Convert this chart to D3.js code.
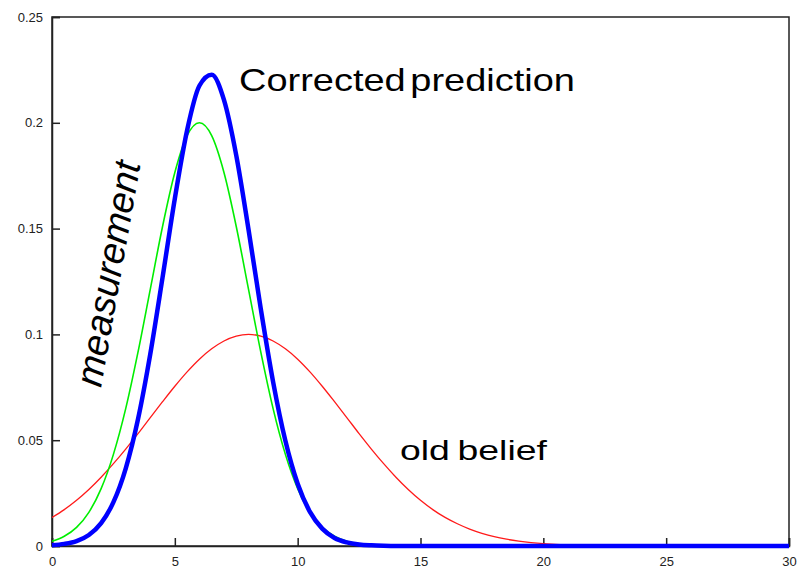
<!DOCTYPE html>
<html>
<head>
<meta charset="utf-8">
<script src="https://cdn.jsdelivr.net/npm/d3@7/dist/d3.min.js"></script>
<style>
  html, body { margin: 0; padding: 0; background: #fff; }
  svg { display: block; }
</style>
</head>
<body>
<svg id="chart" width="798" height="570"></svg>
<script>
// ---- data ----
const xs = [0,0.5,1,1.5,2,2.5,3,3.5,4,4.5,5,5.5,6,6.5,7,7.5,8,8.5,9,9.5,10,10.5,11,11.5,12,12.5,13,13.5,14,14.5,15,15.5,16,16.5,17,17.5,18,18.5,19,19.5,20,20.5,21,21.5,22,22.5,23,23.5,24,24.5,25,25.5,26,26.5,27,27.5,28,28.5,29,29.5,30];

const oldBelief = [0.0135,0.0172,0.0216,0.0267,0.0325,0.0389,0.0458,0.0531,0.0607,0.0682,0.0755,0.0823,0.0883,0.0932,0.0969,0.0992,0.1000,0.0992,0.0969,0.0932,0.0883,0.0823,0.0755,0.0682,0.0607,0.0531,0.0458,0.0389,0.0325,0.0267,0.0216,0.0172,0.0135,0.0105,0.0080,0.0060,0.0044,0.0032,0.0023,0.0016,0.0011,0.0008,0.0005,0.0003,0.0002,0.0001,0.0001,0,0,0,0,0,0,0,0,0,0,0,0,0,0];

const measurement = [0.0022,0.0046,0.0088,0.0159,0.0271,0.0433,0.0649,0.0916,0.1213,0.1510,0.1765,0.1939,0.2000,0.1939,0.1765,0.1510,0.1213,0.0916,0.0649,0.0433,0.0271,0.0159,0.0088,0.0046,0.0022,0.0010,0.0004,0.0002,0.0001,0,0,0,0,0,0,0,0,0,0,0,0,0,0,0,0,0,0,0,0,0,0,0,0,0,0,0,0,0,0,0,0];

const corrected = [0.0004,0.0010,0.0023,0.0052,0.0108,0.0207,0.0366,0.0599,0.0907,0.1269,0.1642,0.1965,0.2175,0.2227,0.2108,0.1846,0.1495,0.1120,0.0776,0.0497,0.0294,0.0161,0.0082,0.0038,0.0017,0.0007,0.0003,0.0001,0,0,0,0,0,0,0,0,0,0,0,0,0,0,0,0,0,0,0,0,0,0,0,0,0,0,0,0,0,0,0,0,0];

const xTicks = [0,5,10,15,20,25,30];
const xTickLabels = ["0","5","10","15","20","25","30"];
const yTicks = [0,0.05,0.1,0.15,0.2,0.25];
const yTickLabels = ["0","0.05","0.1","0.15","0.2","0.25"];

const labelCorrected = "Corrected prediction";
const labelOld = "old belief";
const labelMeas = "measurement";

// ---- layout ----
const svg = d3.select("#chart");
const L = 52, R = 789, T = 17, B = 546;
const x = d3.scaleLinear().domain([0,30]).range([L,R]);
const y = d3.scaleLinear().domain([0,0.25]).range([B,T]);
const font = "Arial, 'Liberation Sans', sans-serif";

// box
svg.append("rect")
  .attr("x", L).attr("y", T).attr("width", R-L).attr("height", B-T)
  .attr("fill", "none").attr("stroke", "#222").attr("stroke-width", 1.5);

// axes
const xAxis = d3.axisBottom(x).tickValues(xTicks)
  .tickFormat((d,i) => xTickLabels[i]).tickSize(-8).tickPadding(11);
const yAxis = d3.axisLeft(y).tickValues(yTicks)
  .tickFormat((d,i) => yTickLabels[i]).tickSize(-8).tickPadding(9);

const gx = svg.append("g").attr("transform", `translate(0,${B})`).call(xAxis);
const gy = svg.append("g").attr("transform", `translate(${L},0)`).call(yAxis);
[gx, gy].forEach(g => {
  g.select(".domain").attr("stroke", "#222").attr("stroke-width", 1.5);
  g.selectAll(".tick line").attr("stroke", "#222").attr("stroke-width", 1.5);
  g.selectAll(".tick text").attr("fill", "#222")
    .style("font-family", font).style("font-size", "13px");
});

// lines
const line = vals => d3.line()
  .x((d,i) => x(xs[i]))
  .y(d => y(d))
  .curve(d3.curveMonotoneX)(vals);

svg.append("path").attr("d", line(oldBelief))
  .attr("fill", "none").attr("stroke", "#ff1a1a").attr("stroke-width", 1.3);
svg.append("path").attr("d", line(measurement))
  .attr("fill", "none").attr("stroke", "#00ee00").attr("stroke-width", 1.6);
svg.append("path").attr("d", line(corrected))
  .attr("fill", "none").attr("stroke", "#0000ff").attr("stroke-width", 4.5)
  .attr("stroke-linejoin", "round");

// annotations: text scaled horizontally to the reference widths
function label(txt, tf, size, width, italic, ws) {
  const g = svg.append("g");
  const t = g.append("text").text(txt)
    .style("font-family", font).style("font-size", size + "px")
    .style("word-spacing", (ws || 0) + "px")
    .style("font-style", italic ? "italic" : "normal").attr("fill", "#000");
  const w = t.node().getComputedTextLength();
  g.attr("transform", `${tf} scale(${width / w},1)`);
}
label(labelCorrected, "translate(239,91)", 32, 336, false, -5);
label(labelOld, "translate(400,460)", 27, 147, false, -2);
label(labelMeas, "translate(101,388) rotate(-80)", 38, 228, true, 0);
</script>
</body>
</html>
